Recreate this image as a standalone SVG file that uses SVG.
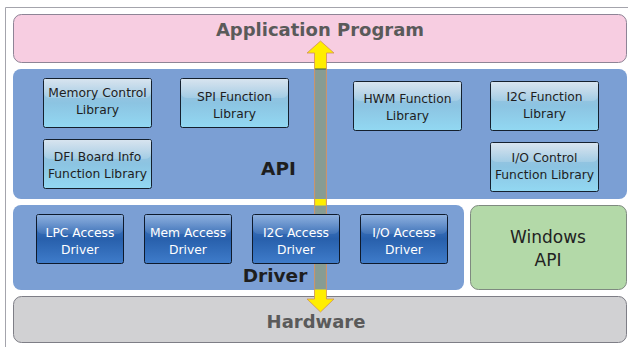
<svg xmlns="http://www.w3.org/2000/svg" width="628" height="347" viewBox="0 0 628 347">
<defs>
<linearGradient id="libG" x1="0" y1="0" x2="0" y2="1">
<stop offset="0" stop-color="#a7c3dc"/>
<stop offset="0.5" stop-color="#8cc4e2"/>
<stop offset="1" stop-color="#92d8f2"/>
</linearGradient>
<linearGradient id="libH" x1="0" y1="0" x2="0" y2="1">
<stop offset="0" stop-color="#ffffff" stop-opacity="0.55"/>
<stop offset="1" stop-color="#ffffff" stop-opacity="0.15"/>
</linearGradient>
<linearGradient id="drvG" x1="0" y1="0" x2="0" y2="1">
<stop offset="0" stop-color="#4f84cc"/>
<stop offset="0.5" stop-color="#2860ac"/>
<stop offset="1" stop-color="#3f7cca"/>
</linearGradient>
<linearGradient id="drvH" x1="0" y1="0" x2="0" y2="1">
<stop offset="0" stop-color="#ffffff" stop-opacity="0.35"/>
<stop offset="1" stop-color="#ffffff" stop-opacity="0.08"/>
</linearGradient>
</defs>
<style>
.frame{fill:none;stroke:#a4a4ac;stroke-width:1}
.lib{fill:url(#libG);stroke:#14202e;stroke-width:1}
.libh{fill:url(#libH)}
.drv{fill:url(#drvG);stroke:#0e1a2c;stroke-width:1}
.drvh{fill:url(#drvH)}
.lt{font-family:"DejaVu Sans",Verdana,sans-serif;font-size:12.3px;fill:#1e1e1e;text-anchor:middle}
.dt{font-family:"DejaVu Sans",Verdana,sans-serif;font-size:12.3px;fill:#ffffff;text-anchor:middle}
.big{font-family:"DejaVu Sans",Verdana,sans-serif;font-weight:bold;font-size:18px;fill:#5a5a5a;text-anchor:middle}
.lbl{font-family:"DejaVu Sans",Verdana,sans-serif;font-weight:bold;font-size:18.5px;fill:#1e1e1e;text-anchor:middle}
.win{font-family:"DejaVu Sans",Verdana,sans-serif;font-size:17px;fill:#222;text-anchor:middle}
</style>
<rect width="628" height="347" fill="#ffffff"/>
<path class="frame" d="M5.5 347 V7.5 H628"/>

<g id="app">
<rect x="13.5" y="14.5" width="613" height="48" rx="8" fill="#f7cde1" stroke="#8e8496"/>
<text class="big" x="320" y="36">Application Program</text>
</g>

<g id="api">
<rect x="13" y="69" width="614" height="130" rx="8" fill="#7b9fd4"/>
<text class="lbl" x="278.5" y="175">API</text>
</g>

<g id="driver">
<rect x="13" y="205" width="451" height="85" rx="8" fill="#7b9fd4"/>
<text class="lbl" x="275" y="282">Driver</text>
</g>

<g id="windows">
<rect x="470.5" y="205.5" width="156" height="84" rx="8" fill="#b3d9a8" stroke="#7f8a80"/>
<text class="win" x="548" y="243">Windows</text>
<text class="win" x="548" y="266">API</text>
</g>

<g id="hardware">
<rect x="13.5" y="296.5" width="613" height="46" rx="8" fill="#d1d1d3" stroke="#7e7e86"/>
<text class="big" x="316" y="328">Hardware</text>
</g>

<g id="connectors">
<polygon points="320.5,41 334,53 326.5,53 326.5,299 334,299 320.5,312 307,299 314.5,299 314.5,53 307,53" fill="#ffee00" stroke="#d0905a" stroke-width="0.8"/>
<rect x="315" y="69" width="11" height="130" fill="#879c93"/>
<rect x="315" y="205.5" width="11" height="84" fill="#879c93"/>
<line x1="315" y1="69" x2="326" y2="69" stroke="#3c5a4a" stroke-width="1"/>
<line x1="314.7" y1="69" x2="314.7" y2="290" stroke="#c49080" stroke-width="0.6"/>
<line x1="326.3" y1="69" x2="326.3" y2="290" stroke="#c49080" stroke-width="0.6"/>
</g>

<g id="memctl">
<rect class="lib" x="43.5" y="78.5" width="108" height="49" rx="2"/>
<path class="libh" d="M44 79 H151 V92 Q151 98 144 98 H51 Q44 98 44 92 Z"/>
<text class="lt" x="97.5" y="97">Memory Control</text>
<text class="lt" x="97.5" y="114">Library</text>
</g>
<g id="spi">
<rect class="lib" x="180.5" y="78.5" width="108" height="49" rx="2"/>
<path class="libh" d="M181 79 H288 V92 Q288 98 281 98 H188 Q181 98 181 92 Z"/>
<text class="lt" x="234.5" y="101">SPI Function</text>
<text class="lt" x="234.5" y="118">Library</text>
</g>
<g id="dfi">
<rect class="lib" x="43.5" y="139.5" width="108" height="49" rx="2"/>
<path class="libh" d="M44 140 H151 V153 Q151 159 144 159 H51 Q44 159 44 153 Z"/>
<text class="lt" x="97.5" y="161">DFI Board Info</text>
<text class="lt" x="97.5" y="178">Function Library</text>
</g>
<g id="hwm">
<rect class="lib" x="353.5" y="81.5" width="108" height="49" rx="2"/>
<path class="libh" d="M354 82 H461 V95 Q461 101 454 101 H361 Q354 101 354 95 Z"/>
<text class="lt" x="407.5" y="103">HWM Function</text>
<text class="lt" x="407.5" y="120">Library</text>
</g>
<g id="i2clib">
<rect class="lib" x="490.5" y="81.5" width="108" height="49" rx="2"/>
<path class="libh" d="M491 82 H598 V95 Q598 101 591 101 H498 Q491 101 491 95 Z"/>
<text class="lt" x="544.5" y="101">I2C Function</text>
<text class="lt" x="544.5" y="118">Library</text>
</g>
<g id="iolib">
<rect class="lib" x="490.5" y="142.5" width="108" height="49" rx="2"/>
<path class="libh" d="M491 143 H598 V156 Q598 162 591 162 H498 Q491 162 491 156 Z"/>
<text class="lt" x="544.5" y="162">I/O Control</text>
<text class="lt" x="544.5" y="179">Function Library</text>
</g>

<g id="lpc">
<rect class="drv" x="36.5" y="214.5" width="87" height="49" rx="2"/>
<path class="drvh" d="M37 215 H123 V228 Q123 234 116 234 H44 Q37 234 37 228 Z"/>
<text class="dt" x="80" y="237">LPC Access</text>
<text class="dt" x="80" y="254">Driver</text>
</g>
<g id="mem">
<rect class="drv" x="144.5" y="214.5" width="87" height="49" rx="2"/>
<path class="drvh" d="M145 215 H231 V228 Q231 234 224 234 H152 Q145 234 145 228 Z"/>
<text class="dt" x="188" y="237">Mem Access</text>
<text class="dt" x="188" y="254">Driver</text>
</g>
<g id="i2cdrv">
<rect class="drv" x="252.5" y="214.5" width="87" height="49" rx="2"/>
<path class="drvh" d="M253 215 H339 V228 Q339 234 332 234 H260 Q253 234 253 228 Z"/>
<text class="dt" x="296" y="237">I2C Access</text>
<text class="dt" x="296" y="254">Driver</text>
</g>
<g id="iodrv">
<rect class="drv" x="360.5" y="214.5" width="87" height="49" rx="2"/>
<path class="drvh" d="M361 215 H447 V228 Q447 234 440 234 H368 Q361 234 361 228 Z"/>
<text class="dt" x="404" y="237">I/O Access</text>
<text class="dt" x="404" y="254">Driver</text>
</g>
</svg>
